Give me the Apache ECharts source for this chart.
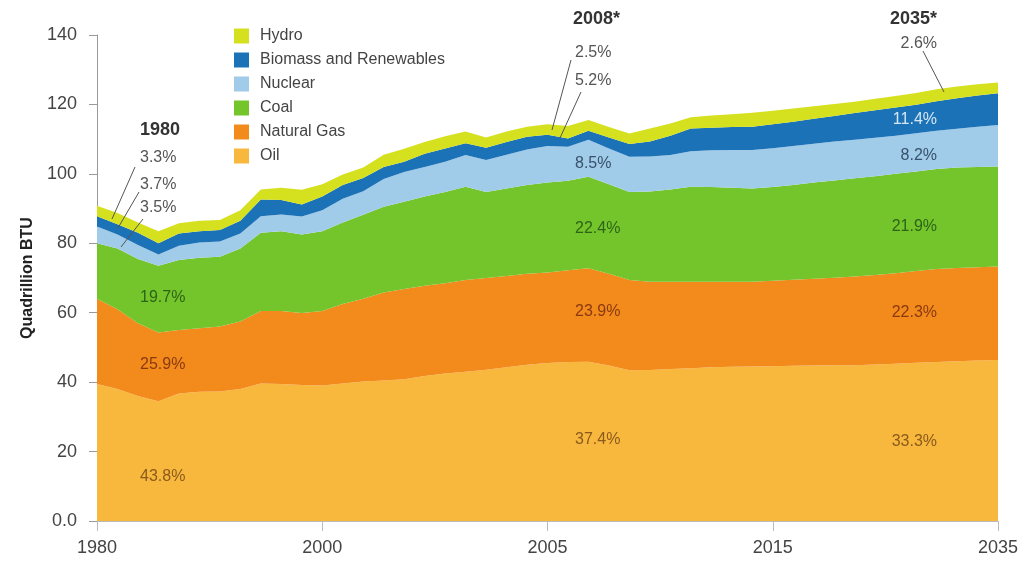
<!DOCTYPE html>
<html><head><meta charset="utf-8">
<script src="https://cdn.jsdelivr.net/npm/echarts@6/dist/echarts.min.js"></script>
<style>html,body{margin:0;padding:0;background:#fff}#c{width:1025px;height:565px}</style>
</head><body><div id="c"></div>
<script>
// ---- data (Quadrillion BTU) ----
const tickLabels = ['1980', '2000', '2005', '2015', '2035'];
const seriesNames = ['Oil', 'Natural Gas', 'Coal', 'Nuclear', 'Biomass and Renewables', 'Hydro'];
const oil = [39.5,38.0,36.0,34.5,36.7,37.2,37.3,38.0,39.6,39.5,39.2,39.0,39.6,40.2,40.5,40.8,41.8,42.5,43.0,43.6,44.3,45.0,45.5,45.8,45.9,44.8,43.4,43.5,43.8,44.0,44.3,44.4,44.5,44.6,44.7,44.8,44.9,44.9,45.1,45.3,45.6,45.8,46.0,46.2,46.4];
const gas = [24.5,23.0,21.0,19.8,18.3,18.3,18.7,19.5,20.9,21.0,20.7,21.5,22.9,23.8,25.3,26.0,26.0,26.0,26.4,26.4,26.3,26.2,26.1,26.4,26.9,26.4,26.0,25.4,25.1,24.9,24.6,24.5,24.4,24.6,24.8,25.0,25.2,25.5,25.8,26.1,26.4,26.8,26.9,26.9,26.9];
const coal = [16.0,17.5,18.5,19.2,20.2,20.3,20.1,21.0,22.5,23.0,22.6,23.0,23.5,24.2,24.7,25.2,25.7,26.3,26.9,24.8,25.2,25.6,25.9,25.8,26.4,25.8,25.4,26.0,26.6,27.4,27.3,27.1,26.9,27.0,27.3,27.7,28.0,28.3,28.4,28.6,28.7,28.8,28.9,28.9,28.8];
const nuclear = [4.8,4.0,4.0,3.3,4.1,4.4,4.4,4.3,4.8,4.8,5.2,6.0,6.8,6.8,8.0,8.5,8.5,8.7,9.1,9.2,9.7,10.2,10.5,9.8,10.6,10.3,10.1,10.1,9.9,10.2,10.6,10.9,11.1,11.2,11.2,11.2,11.2,11.1,11.1,11.0,11.0,11.0,11.2,11.6,12.0];
const biomass = [3.0,3.0,3.5,3.2,3.5,3.3,3.3,3.7,4.8,4.2,3.5,4.0,4.0,3.8,3.5,3.0,3.8,3.8,3.4,3.5,3.7,3.7,3.3,2.4,2.6,3.2,3.7,4.3,5.6,6.6,6.5,6.6,6.7,6.9,7.0,7.2,7.4,7.7,7.9,8.1,8.2,8.5,8.8,9.0,9.1];
const hydro = [3.0,3.2,3.0,3.5,3.0,3.0,2.9,3.0,2.9,3.5,4.2,3.5,3.0,3.0,3.5,3.7,3.4,3.5,3.4,3.0,3.0,2.9,3.0,3.6,3.1,3.0,3.0,3.8,3.5,3.2,3.5,3.7,4.0,3.9,3.8,3.6,3.4,3.3,3.3,3.3,3.4,3.5,3.4,3.2,3.1];
const yTicks = [0, 20, 40, 60, 80, 100, 120, 140];
const legendOrder = ['Hydro', 'Biomass and Renewables', 'Nuclear', 'Coal', 'Natural Gas', 'Oil'];
const ann1980 = ['1980', '3.3%', '3.7%', '3.5%', '19.7%', '25.9%', '43.8%'];
const ann2008 = ['2008*', '2.5%', '5.2%', '8.5%', '22.4%', '23.9%', '37.4%'];
const ann2035 = ['2035*', '2.6%', '11.4%', '8.2%', '21.9%', '22.3%', '33.3%'];

// ---- styling ----
const colors = ['#f8b83e', '#f28a1c', '#74c42b', '#a0cbe9', '#1c72b6', '#d5e11f'];
const FONT = '"Liberation Sans", Arial, sans-serif';
const values = [oil, gas, coal, nuclear, biomass, hydro];
const lastIdx = oil.length - 1;
const step = lastIdx / (tickLabels.length - 1);
const categories = oil.map((_, i) => 'p' + i);

const chart = echarts.init(document.getElementById('c'), null, {renderer: 'canvas'});

function txt(t, x, y, fill, size, bold, align) {
  return {type: 'text', x: x, y: y, z: 100,
    style: {text: t, fill: fill, font: (bold ? 'bold ' : '') + size + 'px ' + FONT,
      align: align || 'left', verticalAlign: 'middle'}};
}
function ln(x1, y1, x2, y2) {
  return {type: 'line', z: 100, shape: {x1: x1, y1: y1, x2: x2, y2: y2},
    style: {stroke: '#555', lineWidth: 1}};
}
const gray = '#555', oilC = '#8a5a1c', gasC = '#8a3a10', coalC = '#2d6418', nucC = '#37526c';
const graphics = [
  txt(ann1980[0], 140, 130, '#333', 18, true),
  txt(ann1980[1], 140, 158, gray, 16),
  txt(ann1980[2], 140, 185, gray, 16),
  txt(ann1980[3], 140, 208, gray, 16),
  txt(ann1980[4], 140, 298, coalC, 16),
  txt(ann1980[5], 140, 365, gasC, 16),
  txt(ann1980[6], 140, 477, oilC, 16),
  ln(135, 167, 112, 219), ln(139, 192, 118, 228), ln(143, 219, 121, 247),
  txt(ann2008[0], 573, 19, '#333', 18, true),
  txt(ann2008[1], 575, 53, gray, 16),
  txt(ann2008[2], 575, 81, gray, 16),
  txt(ann2008[3], 575, 164, nucC, 16),
  txt(ann2008[4], 575, 229, coalC, 16),
  txt(ann2008[5], 575, 312, gasC, 16),
  txt(ann2008[6], 575, 440, oilC, 16),
  ln(571, 60, 552, 130), ln(581, 92, 560, 138),
  txt(ann2035[0], 937, 19, '#333', 18, true, 'right'),
  txt(ann2035[1], 937, 44, gray, 16, false, 'right'),
  txt(ann2035[2], 937, 120, '#d6e7f4', 16, false, 'right'),
  txt(ann2035[3], 937, 156, nucC, 16, false, 'right'),
  txt(ann2035[4], 937, 227, coalC, 16, false, 'right'),
  txt(ann2035[5], 937, 313, gasC, 16, false, 'right'),
  txt(ann2035[6], 937, 442, oilC, 16, false, 'right'),
  ln(923, 51, 944, 92)
];

chart.setOption({
  animation: false,
  backgroundColor: '#fff',
  textStyle: {fontFamily: FONT},
  grid: {left: 97, right: 27, top: 35, bottom: 44, containLabel: false, outerBoundsMode: 'none'},
  legend: {
    data: legendOrder, orient: 'vertical', left: 229, top: 23,
    itemWidth: 15, itemHeight: 15, itemGap: 8, icon: 'rect',
    textStyle: {fontSize: 16, color: '#444', fontFamily: FONT, padding: [0, 0, 0, 6]},
    selectedMode: false
  },
  xAxis: {
    type: 'category', boundaryGap: false, data: categories,
    axisLine: {show: true, lineStyle: {color: '#bbb'}},
    axisTick: {show: true, length: 10, interval: step - 1, lineStyle: {color: '#bbb'}},
    splitLine: {show: false},
    axisLabel: {fontSize: 18, color: '#444', margin: 18, interval: step - 1,
      formatter: (v, idx) => tickLabels[Math.round(idx / step)] || ''}
  },
  yAxis: {
    type: 'value', min: yTicks[0], max: yTicks[yTicks.length - 1], interval: yTicks[1] - yTicks[0],
    name: 'Quadrillion BTU', nameLocation: 'middle', nameGap: 58, nameRotate: 90,
    nameTextStyle: {fontSize: 16, fontWeight: 'bold', color: '#222'},
    axisLine: {show: true, lineStyle: {color: '#999'}},
    axisTick: {show: true, length: 8, lineStyle: {color: '#999'}},
    splitLine: {show: false},
    axisLabel: {fontSize: 18, color: '#444', margin: 20,
      formatter: v => (v === 0 ? '0.0' : String(v))}
  },
  series: seriesNames.map((name, k) => ({
    name: name, type: 'line', stack: 'total', symbol: 'none', smooth: false,
    data: values[k],
    itemStyle: {color: colors[k]},
    lineStyle: {width: 0, color: colors[k]},
    areaStyle: {color: colors[k], opacity: 1},
    emphasis: {disabled: true}
  })),
  graphic: graphics
});
</script></body></html>
